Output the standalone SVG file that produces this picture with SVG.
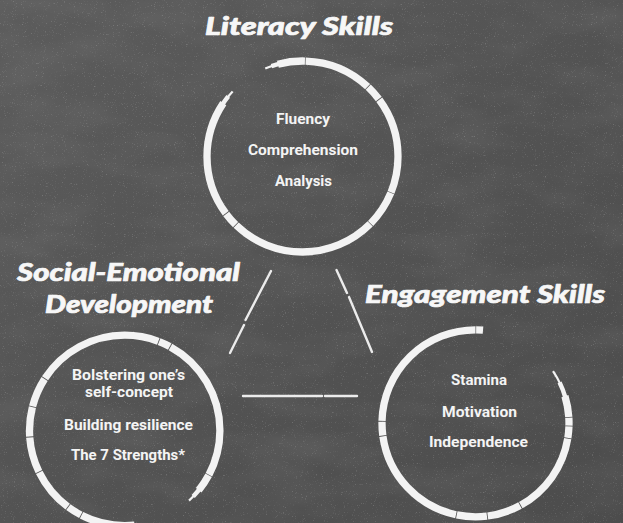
<svg xmlns="http://www.w3.org/2000/svg" width="623" height="523" viewBox="0 0 623 523">
<defs>
  <linearGradient id="bg" x1="0" y1="0" x2="1" y2="1">
    <stop offset="0" stop-color="#5c5c5c"/>
    <stop offset="0.5" stop-color="#535353"/>
    <stop offset="1" stop-color="#4c4c4c"/>
  </linearGradient>
  <filter id="speckle" x="0" y="0" width="100%" height="100%">
    <feTurbulence type="fractalNoise" baseFrequency="0.9" numOctaves="2" seed="3" result="n"/>
    <feColorMatrix in="n" type="matrix" values="0 0 0 0 1  0 0 0 0 1  0 0 0 0 1  4 0 0 0 -2.55"/>
  </filter>
  <filter id="cloud" x="0" y="0" width="100%" height="100%">
    <feTurbulence type="fractalNoise" baseFrequency="0.012 0.03" numOctaves="3" seed="7" result="n"/>
    <feColorMatrix in="n" type="matrix" values="0 0 0 0 1  0 0 0 0 1  0 0 0 0 1  0.9 0 0 0 -0.35"/>
  </filter>
  <style>
    .title { font-family: Lato, "Open Sans", "DejaVu Sans", sans-serif; font-weight: 900; font-style: italic; font-size: 25px; fill: #f7f7f7; stroke: #f7f7f7; stroke-width: 0.7; stroke-linejoin: round; text-anchor: middle; }
    .item { font-family: Roboto, "Open Sans", "Liberation Sans", sans-serif; font-weight: 700; font-size: 14.5px; fill: #f4f4f4; text-anchor: middle; }
    .ring { fill: none; stroke: #f3f3f3; }
    .w7 { stroke-width: 7.3; }
    .w4 { stroke-width: 4.5; }
    .w2 { stroke-width: 2.2; }
    .chalk { stroke: #ececec; stroke-width: 2.4; stroke-linecap: round; fill: none; }
  </style>
</defs>

<rect x="0" y="0" width="623" height="523" fill="url(#bg)"/>
<rect x="0" y="0" width="623" height="523" filter="url(#cloud)" opacity="0.12"/>
<rect x="0" y="0" width="623" height="523" filter="url(#speckle)" opacity="0.18"/>

<g id="connectors">
  <line class="chalk" x1="271" y1="271" x2="245.5" y2="320"/>
  <line class="chalk" x1="244" y1="325" x2="230" y2="353" stroke-width="2"/>
  <line class="chalk" x1="336.5" y1="270" x2="347" y2="293" stroke-width="2"/>
  <line class="chalk" x1="349" y1="297" x2="372" y2="352"/>
  <line class="chalk" x1="243" y1="396" x2="322" y2="396" stroke-width="2.6"/>
  <line class="chalk" x1="325" y1="396" x2="357" y2="396" stroke-width="2.6"/>
</g>

<g id="node-literacy">
  <circle class="ring w7" cx="302.5" cy="156.5" r="95.5" pathLength="360" stroke-dasharray="22 0.4 22.1 0.4 89.1 0.5 8.5 0.5 70.5 41 16.5 0.4 41.1 0.5 9.5 0.5 36.5"/>
  <circle class="ring w4" cx="302.5" cy="156.5" r="95.5" pathLength="360" stroke-dasharray="0 213 6 32 6 400"/>
  <circle class="ring w2" cx="302.5" cy="156.5" r="95.5" pathLength="360" stroke-dasharray="0 218 5 24 5 400"/>
  <text class="title" x="299" y="35" textLength="188" lengthAdjust="spacingAndGlyphs">Literacy Skills</text>
  <text class="item" x="303" y="124" textLength="54" lengthAdjust="spacingAndGlyphs">Fluency</text>
  <text class="item" x="303" y="155" textLength="110" lengthAdjust="spacingAndGlyphs">Comprehension</text>
  <text class="item" x="303.5" y="186" textLength="57" lengthAdjust="spacingAndGlyphs">Analysis</text>
</g>

<g id="node-social">
  <circle class="ring w7" cx="124.7" cy="430.4" r="95.2" pathLength="360" stroke-dasharray="27.8 0.4 10.8 45 33 0.5 8.8 0.5 27 0.5 21.4 0.5 18 0.5 18 0.5 77.5 0.5 7.1 0.5 61.2"/>
  <circle class="ring w4" cx="124.7" cy="430.4" r="95.2" pathLength="360" stroke-dasharray="0 38 6 400"/>
  <circle class="ring w2" cx="124.7" cy="430.4" r="95.2" pathLength="360" stroke-dasharray="0 43 4.5 400"/>
  <text class="title" x="128.5" y="281" textLength="223" lengthAdjust="spacingAndGlyphs">Social-Emotional</text>
  <text class="title" x="129" y="313" textLength="168" lengthAdjust="spacingAndGlyphs">Development</text>
  <text class="item" x="128.5" y="380" textLength="113" lengthAdjust="spacingAndGlyphs">Bolstering one’s</text>
  <text class="item" x="129" y="397" textLength="88" lengthAdjust="spacingAndGlyphs">self-concept</text>
  <text class="item" x="128.5" y="429.5" textLength="129" lengthAdjust="spacingAndGlyphs">Building resilience</text>
  <text class="item" x="128" y="460" textLength="114" lengthAdjust="spacingAndGlyphs">The 7 Strengths*</text>
</g>

<g id="node-engagement">
  <circle class="ring w7" cx="475.5" cy="423.3" r="93.5" pathLength="360" stroke-dasharray="1.5 0.5 7 0.5 51.5 0.5 20.9 0.5 18.7 0.5 69.8 0.5 8.6 0.5 88.5 0.4 4.3 68.3 13 0.5 3.5"/>
  <circle class="ring w4" cx="475.5" cy="423.3" r="93.5" pathLength="360" stroke-dasharray="0 334 10 400"/>
  <circle class="ring w2" cx="475.5" cy="423.3" r="93.5" pathLength="360" stroke-dasharray="0 326 9 400"/>
  <text class="title" x="485" y="303" textLength="240" lengthAdjust="spacingAndGlyphs">Engagement Skills</text>
  <text class="item" x="479" y="385" textLength="56" lengthAdjust="spacingAndGlyphs">Stamina</text>
  <text class="item" x="479.5" y="416.7" textLength="75" lengthAdjust="spacingAndGlyphs">Motivation</text>
  <text class="item" x="478.5" y="447.3" textLength="99" lengthAdjust="spacingAndGlyphs">Independence</text>
</g>
</svg>
